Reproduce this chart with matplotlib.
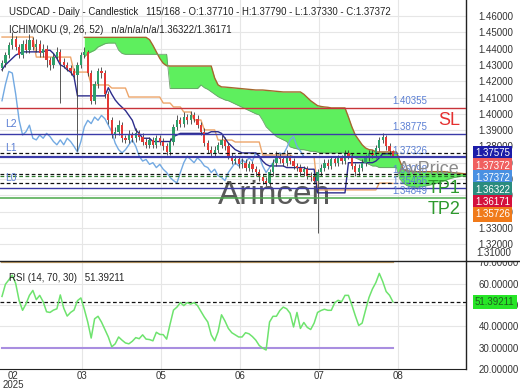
import matplotlib
matplotlib.use("Agg")
import matplotlib.pyplot as plt
import numpy as np
from matplotlib.lines import Line2D
from matplotlib.transforms import Bbox

plt.rcParams['font.family'] = ['Liberation Sans', 'DejaVu Sans']

# ---------------- data ----------------
opens = [1.428, 1.431, 1.436, 1.442, 1.446, 1.441, 1.436, 1.443, 1.439, 1.445,
         1.441, 1.443, 1.437, 1.440, 1.433, 1.430, 1.435, 1.438, 1.432, 1.430,
         1.428, 1.426, 1.424, 1.430, 1.436, 1.438, 1.425, 1.408, 1.418, 1.426,
         1.425, 1.412, 1.396, 1.387, 1.389, 1.393, 1.385, 1.384, 1.387, 1.385,
         1.388, 1.386, 1.383, 1.381, 1.384, 1.381, 1.385, 1.383, 1.380, 1.3766,
         1.383, 1.392, 1.396, 1.394, 1.398, 1.396, 1.399, 1.397, 1.393, 1.389,
         1.382, 1.378, 1.376, 1.378, 1.381, 1.384, 1.380, 1.374, 1.371, 1.372,
         1.369, 1.370, 1.367, 1.369, 1.366, 1.364, 1.361, 1.359, 1.3576, 1.364,
         1.370, 1.374, 1.372, 1.370, 1.373, 1.371, 1.368, 1.367, 1.364, 1.366,
         1.362, 1.361, 1.359, 1.364, 1.367, 1.370, 1.368, 1.372, 1.370, 1.373,
         1.371, 1.376, 1.374, 1.368, 1.364, 1.367, 1.370, 1.373, 1.376, 1.375,
         1.379, 1.384, 1.386, 1.380, 1.3771]
highs = [1.433, 1.438, 1.444, 1.450, 1.448, 1.443, 1.445, 1.446, 1.449, 1.447,
         1.446, 1.445, 1.443, 1.442, 1.435, 1.437, 1.441, 1.440, 1.434, 1.432,
         1.430, 1.428, 1.432, 1.438, 1.441, 1.439, 1.427, 1.420, 1.428, 1.429,
         1.427, 1.414, 1.398, 1.392, 1.396, 1.395, 1.387, 1.390, 1.389, 1.391,
         1.390, 1.388, 1.385, 1.386, 1.386, 1.387, 1.387, 1.385, 1.382, 1.385,
         1.394, 1.399, 1.398, 1.401, 1.400, 1.402, 1.401, 1.399, 1.395, 1.391,
         1.384, 1.380, 1.380, 1.383, 1.387, 1.386, 1.382, 1.376, 1.375, 1.374,
         1.373, 1.372, 1.371, 1.371, 1.368, 1.366, 1.363, 1.361, 1.366, 1.372,
         1.377, 1.376, 1.374, 1.3775, 1.375, 1.373, 1.370, 1.369, 1.368, 1.368,
         1.364, 1.363, 1.366, 1.369, 1.372, 1.372, 1.374, 1.374, 1.375, 1.375,
         1.378, 1.378, 1.376, 1.370, 1.369, 1.372, 1.375, 1.378, 1.378, 1.381,
         1.386, 1.388, 1.387, 1.382, 1.3779]
lows = [1.426, 1.429, 1.434, 1.440, 1.439, 1.434, 1.434, 1.437, 1.437, 1.439,
        1.438, 1.435, 1.435, 1.429, 1.427, 1.428, 1.433, 1.4066, 1.428, 1.426,
        1.424, 1.422, 1.377, 1.428, 1.434, 1.423, 1.406, 1.406, 1.416, 1.422,
        1.410, 1.394, 1.385, 1.385, 1.387, 1.383, 1.382, 1.382, 1.383, 1.383,
        1.384, 1.381, 1.379, 1.379, 1.379, 1.379, 1.381, 1.378, 1.3748, 1.375,
        1.381, 1.390, 1.392, 1.392, 1.394, 1.394, 1.395, 1.391, 1.387, 1.380,
        1.376, 1.3735, 1.374, 1.376, 1.379, 1.378, 1.372, 1.369, 1.369, 1.367,
        1.367, 1.365, 1.365, 1.364, 1.362, 1.359, 1.357, 1.3555, 1.356, 1.362,
        1.368, 1.370, 1.368, 1.368, 1.369, 1.366, 1.365, 1.362, 1.362, 1.360,
        1.359, 1.357, 1.327, 1.362, 1.365, 1.366, 1.366, 1.368, 1.368, 1.369,
        1.369, 1.372, 1.366, 1.362, 1.362, 1.365, 1.368, 1.371, 1.373, 1.373,
        1.377, 1.382, 1.378, 1.375, 1.3733]
closes = [1.431, 1.436, 1.442, 1.446, 1.441, 1.436, 1.443, 1.439, 1.445, 1.441,
          1.443, 1.437, 1.440, 1.433, 1.430, 1.435, 1.438, 1.432, 1.430, 1.428,
          1.426, 1.424, 1.430, 1.436, 1.438, 1.425, 1.408, 1.418, 1.426, 1.425,
          1.412, 1.396, 1.387, 1.389, 1.393, 1.385, 1.384, 1.387, 1.385, 1.388,
          1.386, 1.383, 1.381, 1.384, 1.381, 1.385, 1.383, 1.380, 1.3766, 1.383,
          1.392, 1.396, 1.394, 1.398, 1.396, 1.399, 1.397, 1.393, 1.389, 1.382,
          1.378, 1.376, 1.378, 1.381, 1.384, 1.380, 1.374, 1.371, 1.372, 1.369,
          1.370, 1.367, 1.369, 1.366, 1.364, 1.361, 1.359, 1.3576, 1.364, 1.370,
          1.374, 1.372, 1.370, 1.373, 1.371, 1.368, 1.367, 1.364, 1.366, 1.362,
          1.361, 1.359, 1.364, 1.367, 1.370, 1.368, 1.372, 1.370, 1.373, 1.371,
          1.376, 1.374, 1.368, 1.364, 1.367, 1.370, 1.373, 1.376, 1.375, 1.379,
          1.384, 1.386, 1.380, 1.3771, 1.37372]

tenkan = [1.427, 1.430, 1.432, 1.434, 1.436, 1.437, 1.438, 1.438, 1.438, 1.438,
          1.438, 1.438, 1.438, 1.439, 1.439, 1.437, 1.434, 1.430, 1.429, 1.427,
          1.4256, 1.4226, 1.411, 1.411, 1.411, 1.411, 1.411, 1.411, 1.411, 1.411,
          1.411, 1.416, 1.412, 1.4085, 1.406, 1.404, 1.402, 1.399, 1.396, 1.390,
          1.388, 1.385, 1.385, 1.385, 1.383, 1.383, 1.383, 1.383, 1.383, 1.383,
          1.386, 1.387, 1.388, 1.388, 1.388, 1.388, 1.388, 1.388, 1.388, 1.388,
          1.388, 1.389, 1.389, 1.389, 1.388, 1.385, 1.382, 1.380, 1.378, 1.377,
          1.376, 1.376, 1.376, 1.376, 1.376, 1.374, 1.371, 1.369, 1.368, 1.368,
          1.368, 1.368, 1.368, 1.367, 1.367, 1.367, 1.367, 1.367, 1.367, 1.366,
          1.366, 1.366, 1.3515, 1.3515, 1.3515, 1.3515, 1.3515, 1.3515, 1.3515, 1.3515,
          1.3515, 1.370, 1.370, 1.370, 1.370, 1.370, 1.370, 1.370, 1.370, 1.371,
          1.373, 1.3755, 1.3755, 1.3755, 1.37575]
kijun = [1.4471, 1.4471, 1.4471, 1.4471, 1.4471, 1.4471, 1.4471, 1.4471, 1.4471, 1.4471,
         1.4348, 1.4348, 1.4348, 1.4348, 1.4348, 1.4348, 1.4348, 1.4348, 1.4348, 1.4348,
         1.4348, 1.4256, 1.4256, 1.4256, 1.4256, 1.4256, 1.4177, 1.4177, 1.4177, 1.4177,
         1.4177, 1.4177, 1.4158, 1.4158, 1.4158, 1.4158, 1.4158, 1.4103, 1.4103, 1.4103,
         1.4103, 1.4103, 1.4103, 1.4103, 1.4103, 1.4103, 1.4103, 1.4066, 1.4066, 1.4066,
         1.4042, 1.4042, 1.4042, 1.4011, 1.4011, 1.4011, 1.3962, 1.3962, 1.3962, 1.3901,
         1.3901, 1.3901, 1.3901, 1.3839, 1.3839, 1.3839, 1.3839, 1.3839, 1.3827, 1.3827,
         1.3827, 1.3827, 1.3827, 1.3827, 1.3827, 1.3827, 1.3747, 1.3747, 1.3747, 1.3747,
         1.3747, 1.3747, 1.3747, 1.3747, 1.3747, 1.3735, 1.3735, 1.3735, 1.3735, 1.3735,
         1.3735, 1.3735, 1.3533, 1.3533, 1.3533, 1.3533, 1.3533, 1.3533, 1.3533, 1.3533,
         1.3533, 1.3533, 1.3533, 1.3533, 1.3533, 1.3533, 1.3533, 1.3533, 1.3533, 1.3533,
         1.3575, 1.3575, 1.3575, 1.3575, 1.35726]

cloud_start = 24
span_b = [1.4469, 1.4469, 1.4469, 1.4469, 1.4469, 1.4469, 1.4469, 1.4469, 1.4469, 1.4469,
          1.4469, 1.4469, 1.4469, 1.4469, 1.4469, 1.4469, 1.4469, 1.4469, 1.4469,
          1.4455, 1.442, 1.438, 1.434, 1.431, 1.4295,
          1.4293, 1.4293, 1.4293, 1.4293, 1.4293, 1.4293, 1.4293, 1.4293, 1.4293, 1.4293,
          1.4293, 1.4293, 1.4293,
          1.422, 1.4177,
          1.4165, 1.4164, 1.4162, 1.416, 1.4158, 1.4156, 1.4154, 1.4152, 1.415, 1.4148,
          1.4146, 1.4146, 1.4146,
          1.4144, 1.4142, 1.414, 1.4138, 1.4136, 1.4134, 1.4134, 1.4134, 1.4134, 1.4134, 1.4134,
          1.412, 1.410, 1.408, 1.4065, 1.405, 1.4045, 1.4042, 1.4040,
          1.4036, 1.4036, 1.4036, 1.4036, 1.4036,
          1.398, 1.392, 1.387, 1.384,
          1.381, 1.379, 1.378, 1.3778,
          1.3766, 1.3766, 1.3766, 1.3766, 1.3766, 1.3766, 1.3766,
          1.371, 1.3660,
          1.3650, 1.3648, 1.3646, 1.3645, 1.3645, 1.3645, 1.3645, 1.3645, 1.3645, 1.3645,
          1.3645, 1.3645, 1.3642, 1.3640, 1.3638, 1.3636, 1.3634, 1.3632, 1.3632, 1.3632,
          1.3632, 1.3632, 1.3632]
span_a = [1.4349, 1.437, 1.438, 1.439,
          1.441, 1.442, 1.443, 1.4434, 1.4434, 1.4434,
          1.439, 1.437,
          1.4365, 1.4365, 1.4365, 1.4365, 1.4365, 1.4365, 1.4365, 1.4365, 1.4365, 1.4365,
          1.4365, 1.4365, 1.4365,
          1.4155, 1.4155, 1.4155, 1.4155, 1.4155, 1.4155, 1.4155, 1.4155, 1.4155,
          1.4177,
          1.416, 1.415, 1.4135, 1.412, 1.4105, 1.4095, 1.4085,
          1.408, 1.407, 1.406, 1.405, 1.404, 1.403, 1.402, 1.401, 1.400, 1.3993,
          1.396, 1.392, 1.390, 1.388, 1.386, 1.385, 1.384, 1.383,
          1.3797, 1.379, 1.3785, 1.378, 1.378, 1.3775, 1.377, 1.377, 1.3765, 1.376,
          1.376, 1.376, 1.376, 1.376, 1.376, 1.376, 1.376, 1.376,
          1.374, 1.373, 1.372, 1.371, 1.370, 1.369, 1.368, 1.368, 1.367, 1.367,
          1.367, 1.367, 1.367, 1.367,
          1.3600, 1.3575, 1.3560, 1.3552, 1.3550, 1.3550, 1.3552, 1.3555, 1.3560, 1.3565,
          1.3570, 1.3575, 1.3582, 1.3590, 1.3598, 1.3605, 1.3610, 1.3614, 1.3617, 1.3617,
          1.3617, 1.3617, 1.3617, 1.3617, 1.3617]
chikou_shift = 26

rsi = [54.0, 59.7, 61.8, 64.0, 60.0, 52.0, 47.5, 50.5, 54.5, 56.8,
       52.5, 54.5, 51.5, 46.8, 46.5, 47.6, 48.2, 54.7, 48.5, 44.8,
       46.5, 47.6, 52.0, 53.3, 48.0, 42.0, 34.5, 43.5, 44.7, 42.0,
       38.5, 35.0, 30.4, 31.8, 35.0, 33.5, 32.2, 31.8, 33.0, 34.7,
       34.2, 36.0, 34.0, 33.8, 33.2, 37.2, 36.2, 36.1, 34.0, 41.0,
       47.6, 49.0, 51.1, 49.7, 51.1, 50.4, 51.1, 49.7, 47.0, 44.3,
       42.0, 36.0, 33.2, 37.5, 45.4, 42.5, 39.0, 37.0, 36.0, 35.0,
       35.0, 37.0, 36.5, 35.2, 33.5, 31.0, 29.8, 28.9, 42.0, 44.7,
       44.7, 47.4, 49.0, 48.2, 46.1, 39.7, 46.5, 39.0, 41.8, 39.5,
       38.5, 41.5, 46.5, 47.4, 48.0, 47.5, 47.5, 51.0, 52.2, 51.5,
       54.5, 54.5, 50.0, 45.0, 40.4, 41.5, 47.6, 53.5, 57.5, 60.5,
       64.8, 61.0, 56.3, 54.5, 51.39211]

month_ticks = [3.2, 23.3, 46.4, 69.4, 92.4, 115.5]
month_labels = ['02\n2025', '03', '05', '06', '07', '08']

# horizontal levels: price, colour, style, width
level_prices = [1.40355, 1.38775, 1.37575, 1.37326, 1.36322, 1.36171, 1.35726, 1.35466, 1.34849]
level_colors = ['#c8333a', '#3b3ba8', '#111111', '#3b3ba8', '#111111', '#2f7d2f', '#111111', '#3b3ba8', '#4aa84a']
level_styles = ['-', '-', '--', '-', '--', '--', '--', '-', '-']
level_widths = [1.0, 1.0, 0.9, 1.6, 0.9, 0.9, 0.9, 1.0, 1.1]
level_labels = ['1.40355', '1.38775', '1.37326', '1.36098', '1.35466', '1.34849']
level_label_prices = [1.40355, 1.38775, 1.37326, 1.36171, 1.35466, 1.34849]
side_labels = ['L2', 'L1', 'L0']
side_label_prices = [1.38775, 1.37326, 1.35466]
tag_texts = ['SL', 'AvPrice', 'TP1', 'TP2']
tag_prices = [1.40355, 1.37326, 1.36171, 1.34849]
tag_colors = ['#e53030', '#8a8a8a', '#2e9a2e', '#2e9a2e']

box_values = ['1.37575', '1.37372', '1.37372', '1.36322', '1.36171', '1.35726']
box_colors = ['#1c1ca8', '#f06060', '#4a90e2', '#2a8c7e', '#d4103c', '#f07a1a']

price_ticks = [1.32, 1.33, 1.34, 1.35, 1.36, 1.37, 1.38, 1.39, 1.40, 1.41,
               1.42, 1.43, 1.44, 1.45, 1.46]
rsi_ticks = [20, 30, 40, 50, 60, 70]

# ---------------- figure ----------------
W, H = 520, 390
fig = plt.figure(figsize=(W / 100, H / 100), dpi=100)
fig.patch.set_facecolor('white')
right_px = 466
ax = fig.add_axes([0, 1 - 261 / H, right_px / W, 261 / H])
ax2 = fig.add_axes([0, 1 - 369 / H, right_px / W, 108 / H])

xl = (-0.583, 135.28)
ax.set_xlim(*xl)
ax2.set_xlim(*xl)
ax.set_ylim(1.30969, 1.46982)
ax2.set_ylim(23.65, 70.6)

grid_c = '#e6e6e6'
for a in (ax, ax2):
    for s in ('top', 'left', 'bottom'):
        a.spines[s].set_visible(False)
    a.spines['right'].set_color('#222222')
    a.spines['right'].set_linewidth(1.0)
    a.yaxis.tick_right()
    for t in month_ticks[1:]:
        a.axvline(t, color=grid_c, lw=0.8, zorder=0)
ax2.spines['bottom'].set_visible(True)
ax2.spines['bottom'].set_color('#222222')

ax.set_xticks([])
ax.set_yticks(price_ticks)
ax.set_yticklabels(['%.5f' % v for v in price_ticks])
ax.tick_params(axis='y', length=0, pad=9, labelsize=7, colors='#333333')
for v in price_ticks:
    ax.axhline(v, color=grid_c, lw=0.8, zorder=0)
ax.text(476 / right_px, 1.3145, '1.31000', transform=ax.get_yaxis_transform(),
        fontsize=7, color='#333333', va='center', ha='left', clip_on=False)

# cloud
cx = np.arange(cloud_start, cloud_start + len(span_b))
ax.fill_between(cx, span_a, span_b, color='#5eef5e', lw=0, zorder=1)
ax.plot(cx, span_b, color='#a5672e', lw=1.0, zorder=1.2)
ax.plot(cx, span_a, color='#6a9f6a', lw=0.6, zorder=1.2)

# watermark
ax.text(0.588, 1.3500, 'Arincen', transform=ax.get_yaxis_transform(), fontsize=24,
        color='#5a5a5a', ha='center', va='center', zorder=1.5)

bars = np.arange(len(closes))
o = np.array(opens); c = np.array(closes); h = np.array(highs); l = np.array(lows)

# ichimoku lines
ax.plot(bars[:-chikou_shift], c[chikou_shift:], color='#72a9e2', lw=1.0, zorder=2)
ax.plot(bars, kijun, color='#eda56a', lw=1.0, zorder=2)
ax.plot(bars, tenkan, color='#2c2c8c', lw=1.0, zorder=2.1)

# candles
up = c >= o
cols = np.where(up, '#2e9f6a', '#e53935')
ax.vlines(bars, l, h, colors='#3a3a3a', lw=0.6, zorder=3)
ax.bar(bars, np.maximum(np.abs(c - o), 0.0004), bottom=np.minimum(o, c), width=0.66,
       color=cols, linewidth=0, zorder=3.2)

# levels
for p, col, ls, lw in zip(level_prices, level_colors, level_styles, level_widths):
    kw = dict(dashes=(3, 2)) if ls == '--' else {}
    ax.axhline(p, color=col, lw=lw, ls=ls, zorder=3.5, **kw)

ytr = ax.get_yaxis_transform()
for txt, p in zip(level_labels, level_label_prices):
    ax.annotate(txt, (392 / right_px, p), xycoords=ytr, xytext=(0, 4.8),
                textcoords='offset points', fontsize=7, color='#5b7fd4',
                ha='left', va='center', zorder=4)
for txt, p in zip(side_labels, side_label_prices):
    ax.annotate(txt, (5 / right_px, p), xycoords=ytr, xytext=(0, 7),
                textcoords='offset points', fontsize=7.5, color='#5b7fd4',
                ha='left', va='center', zorder=4)
for txt, p, col in zip(tag_texts, tag_prices, tag_colors):
    ax.annotate(txt, (460 / right_px, p), xycoords=ytr, xytext=(0, -8.8),
                textcoords='offset points', fontsize=13, color=col,
                ha='right', va='center', zorder=4.5)

# right boxes
y0 = ax.transAxes.inverted().transform(ax.transData.transform((0, float(box_values[0]))))[1]
step = 12.2 / 261
for k, (txt, col) in enumerate(zip(box_values, box_colors)):
    ax.text(475 / right_px, y0 - k * step, txt, transform=ax.transAxes, fontsize=7,
            color='white', ha='left', va='center', clip_on=False, zorder=6,
            bbox=dict(boxstyle='square,pad=0.25', fc=col, ec='none'))

# RSI panel
ax2.set_yticks(rsi_ticks)
ax2.set_yticklabels(['%.5f' % v for v in rsi_ticks])
ax2.tick_params(axis='y', length=0, pad=9, labelsize=7, colors='#333333')
clipbox = Bbox.from_extents(0, H - 376, W, H - 261)
for lab in ax2.get_yticklabels():
    lab.set_clip_box(clipbox)
    lab.set_clip_on(True)
for v in (40, 50, 60):
    ax2.axhline(v, color=grid_c, lw=0.8, zorder=0)
ax2.plot([bars[0], bars[-1]], [70, 70], color='#c9a46a', lw=1.6, zorder=1)
ax2.plot([bars[0], bars[-1]], [30, 30], color='#a98ee0', lw=1.5, zorder=1)
ax2.axhline(rsi[-1], color='#111111', lw=0.9, dashes=(3, 2), zorder=1.5)
ax2.plot(bars, rsi, color='#6ee36e', lw=1.1, zorder=2)
ax2.text(475 / right_px, rsi[-1], '%.5f' % rsi[-1], transform=ax2.get_yaxis_transform(),
         fontsize=7, color='#1f5f1f', ha='left', va='center', clip_on=False, zorder=6,
         bbox=dict(boxstyle='square,pad=0.25', fc='#27e627', ec='none'))
ax2.set_xticks(month_ticks)
ax2.set_xticklabels(month_labels)
ax2.tick_params(axis='x', length=0, pad=1.5, labelsize=7, colors='#333333')
for lab in ax2.get_xticklabels():
    lab.set_linespacing(0.85)

# separator across the full width
fig.add_artist(Line2D([0, 1], [1 - 261 / H, 1 - 261 / H], transform=fig.transFigure,
                      color='#222222', lw=1.0))

# headers
fig.text(9 / W, 1 - 12 / H,
         'USDCAD - Daily - Candlestick   115/168 - O:1.37710 - H:1.37790 - L:1.37330 - C:1.37372',
         fontsize=6.9, color='#222222', va='center', ha='left')
fig.text(9 / W, 1 - 30 / H, 'ICHIMOKU (9, 26, 52)   n/a/n/a/n/a/1.36322/1.36171',
         fontsize=6.9, color='#222222', va='center', ha='left')
fig.text(9 / W, 1 - 278 / H, 'RSI (14, 70, 30)   51.39211',
         fontsize=6.9, color='#222222', va='center', ha='left')

fig.savefig('out.png', dpi=100)
